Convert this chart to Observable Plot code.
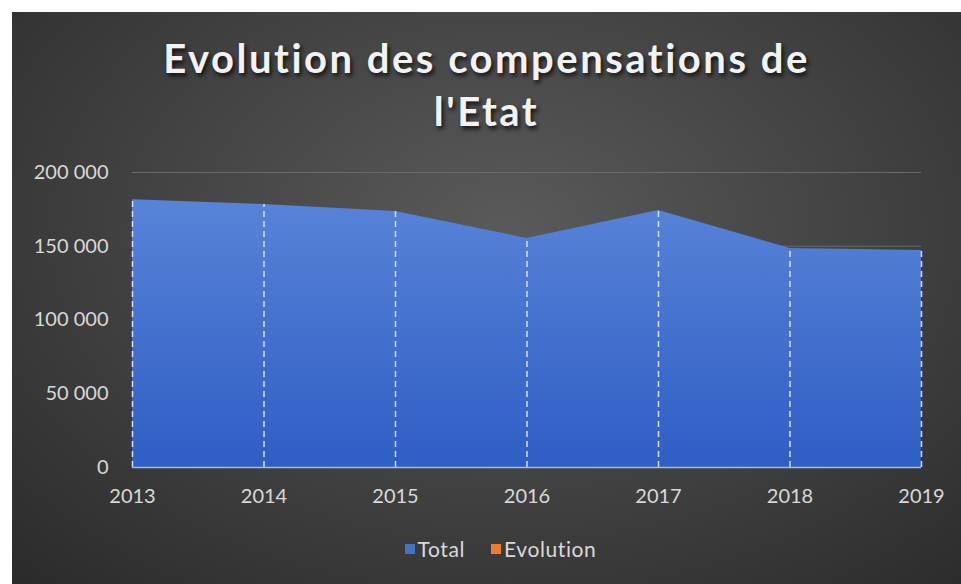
<!DOCTYPE html>
<html>
<head>
<meta charset="utf-8">
<script src="https://cdn.jsdelivr.net/npm/d3@7"></script>
<script src="https://cdn.jsdelivr.net/npm/@observablehq/plot@0.6"></script>
<style>
  html, body { margin: 0; padding: 0; background: #fff; }
  #frame {
    position: absolute; left: 12px; top: 12px; width: 949px; height: 572px;
    background: radial-gradient(ellipse 75% 85% at 52% 38%, #5a5a5a 0%, #454545 45%, #2b2b2b 100%);
    overflow: hidden; font-family: Lato, sans-serif;
  }
  #title {
    position: absolute; left: 0; width: 949px; top: 20px; text-align: center;
    color: #f2f2f2; font-weight: 700; font-size: 40px; line-height: 53px; letter-spacing: 2.5px;
    text-shadow: 2px 3px 4px rgba(0,0,0,0.75);
  }
  #chart { position: absolute; left: 0; top: 138px; }
  #legend {
    position: absolute; top: 524px; left: 14px; width: 949px; display: flex; justify-content: center;
    gap: 26px; color: #d9d9d9; font-size: 21px; letter-spacing: 0.6px;
  }
  #legend span.sw { display: inline-block; width: 10px; height: 10px; margin-right: 3px; }
</style>
</head>
<body>
<div id="frame">
  <div id="title">Evolution des compensations de<br>l'Etat</div>
  <div id="chart"></div>
  <div id="legend"></div>
</div>
<script>
const years = [2013, 2014, 2015, 2016, 2017, 2018, 2019];
const totals = [181500, 178300, 173600, 155300, 174200, 148500, 147100];
const yTicks = [0, 50000, 100000, 150000, 200000];
const seriesNames = ["Total", "Evolution"];
const seriesColors = ["#4472c4", "#ed7d31"];

const data = years.map((y, i) => ({year: y, total: totals[i]}));
const fmt = d => d3.format(",")(d).replace(/,/g, " ");

const plot = Plot.plot({
  width: 949,
  height: 370,
  marginLeft: 120,
  marginRight: 40,
  marginTop: 22,
  marginBottom: 53,
  style: {background: "transparent", color: "#d9d9d9", fontFamily: "Lato, sans-serif", fontSize: "20px"},
  x: {domain: [2013, 2019], ticks: years, tickFormat: d => String(d), tickSize: 0, tickPadding: 21, label: null},
  y: {domain: [0, 200000], ticks: yTicks, tickFormat: fmt, tickSize: 0, tickPadding: 24, label: null},
  marks: [
    Plot.gridY(yTicks, {stroke: "#6a6a6a", strokeOpacity: 1, strokeWidth: 1}),
    Plot.line(data, {x: "year", y: "total", stroke: "#1f2840", strokeWidth: 4, strokeOpacity: 0.6, dy: 3}),
    Plot.areaY(data, {x: "year", y: "total", fill: "url(#blueGrad)"}),
    Plot.ruleX(data, {x: "year", y1: 0, y2: "total", stroke: "#d6e0f5", strokeWidth: 1.5, strokeDasharray: "6,4"}),
    Plot.ruleY([0], {stroke: "#a9b9dc", strokeWidth: 1.5}),
    Plot.axisX({ticks: years, tickFormat: d => String(d), tickSize: 0, tickPadding: 21, fill: "#d9d9d9"}),
    Plot.axisY({ticks: yTicks, tickFormat: fmt, tickSize: 0, tickPadding: 24, fill: "#d9d9d9"})
  ]
});
d3.select(plot).insert("defs", ":first-child").html(
  '<linearGradient id="blueGrad" x1="0" y1="0" x2="0" y2="1">' +
  '<stop offset="0%" stop-color="#5883d8"/>' +
  '<stop offset="100%" stop-color="#2f5ec4"/>' +
  '</linearGradient>');
document.getElementById("chart").appendChild(plot);

const legend = document.getElementById("legend");
seriesNames.forEach((n, i) => {
  const item = document.createElement("div");
  item.style.display = "flex";
  item.style.alignItems = "center";
  item.innerHTML = `<span class="sw" style="background:${seriesColors[i]}"></span>${n}`;
  legend.appendChild(item);
});
</script>
</body>
</html>
